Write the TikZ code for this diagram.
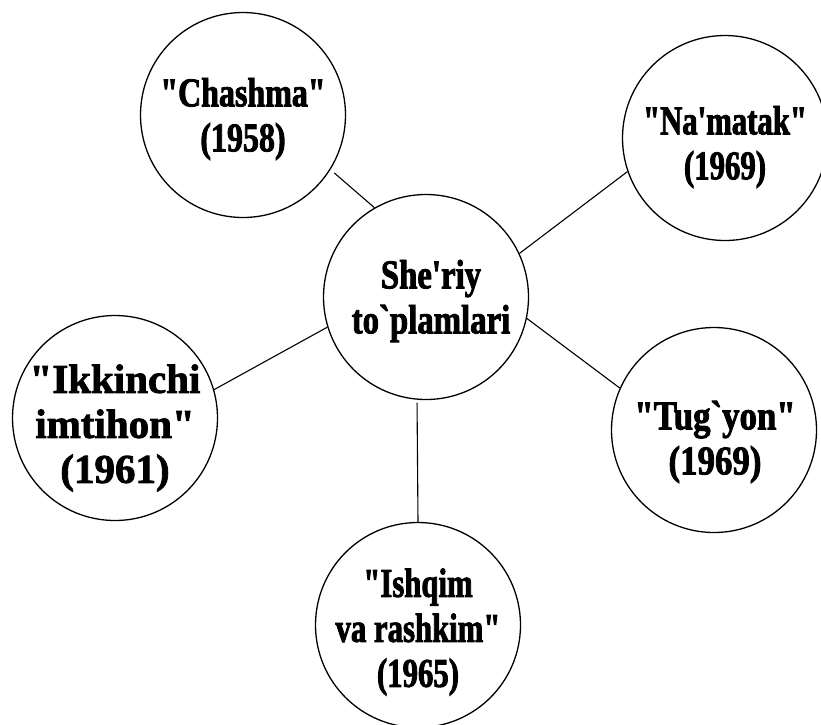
\documentclass[tikz,border=0pt]{standalone}
\usepackage{fontspec}
\usepackage{tikz}
\usetikzlibrary{positioning}
\newfontfamily\boldserif[Ligatures=TeXOff, FakeBold=2]{Liberation Serif Bold}

\begin{document}
\begin{tikzpicture}[x = 1pt, y = -1pt,
  ring/.style = {draw, circle, line width = 1.3pt, minimum size = 205pt, inner sep = 0pt},
  txt/.style = {align = center, inner sep = 0pt, font = \fontsize{41}{45}\selectfont\boldserif\addfontfeature{FakeStretch = #1}},
  link/.style = {line width = 1.1pt}]
\useasboundingbox (0,0) rectangle (821,724);
\node[ring] (main) at (426,297) {};
\foreach \nm/\px/\py in {ch/243/115, nam/725/138, ik/115/418, tug/714/430, ish/418/625}
\node[ring] (\nm) at (\px,\py) {};
\node[txt = 0.8] (main-t) at (431,301) {She'riy\\to`plamlari};
\node[txt = 0.78] (ch-t) at (243,119) {"Chashma"\\(1958)};
\node[txt = 0.75] (nam-t) at (725,147) {"Na'matak"\\(1969)};
\node[txt = 1] (ik-t) at (115,428) {"Ikkinchi\\imtihon"\\(1961)};
\node[txt = 0.85] (tug-t) at (715,442) {"Tug`yon"\\(1969)};
\node[txt = 0.75] (ish-t) at (418,632) {"Ishqim\\va rashkim"\\(1965)};
\draw[link, shorten >= 5pt] (main.120) -- (ch.-32);
\draw[link] (main.25) -- (nam.199);
\draw[link] (main.197) -- (ik.16);
\draw[link] (main.-12) -- (tug.156);
\draw[link, shorten <= 3pt] (main.-95) -- (ish.90);
\end{tikzpicture}
\end{document}
